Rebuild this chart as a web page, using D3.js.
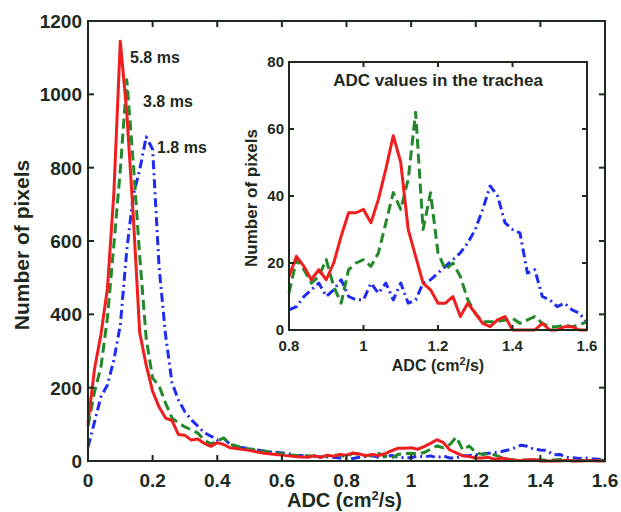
<!DOCTYPE html>
<html><head><meta charset="utf-8">
<script src="https://cdn.jsdelivr.net/npm/d3@7"></script>
<style>
html,body{margin:0;padding:0;background:#fff;}
svg{display:block;font-family:"Liberation Sans",Arial,Helvetica,sans-serif;}
</style></head>
<body><svg id="chart" width="621" height="512"></svg>
<script>
// ---- DATA ----
// ADC bins (cm^2/s), lung part of the histogram (0 - 0.78)
const adcLung = [0.00,0.02,0.04,0.06,0.08,0.10,0.12,0.14,0.16,0.18,0.20,0.22,0.24,0.26,0.28,0.30,0.32,0.34,0.36,0.38,
                 0.40,0.42,0.44,0.46,0.48,0.50,0.52,0.54,0.56,0.58,0.60,0.62,0.64,0.66,0.68,0.70,0.72,0.74,0.76,0.78];
// ADC bins in the trachea range (0.8 - 1.6)
const adcTrachea = [0.80,0.82,0.84,0.86,0.88,0.90,0.92,0.94,0.96,0.98,1.00,1.02,1.04,1.06,1.08,1.10,1.12,1.14,1.16,1.18,
                    1.20,1.22,1.24,1.26,1.28,1.30,1.32,1.34,1.36,1.38,1.40,1.42,1.44,1.46,1.48,1.50,1.52,1.54,1.56,1.58,1.60];

// 5.8 ms (red, solid)
const lung58 = [104,250,345,470,730,1145,950,670,350,262,190,147,117,110,72,70,57,60,48,40,
                50,45,36,34,31,29,25,22,20,18,16,14,12,11,10,14,10,16,13,18];
const trachea58 = [16,22,19,15,18,15,20,28,35,35,36,32,39,48,58,50,30,22,14,12,
                   8,8,10,4,8,5,2,1,3,4,0,0,0,0,2,0,0,1,1,0,0];
// 3.8 ms (green, dashed)
const lung38 = [95,188,256,390,589,794,1040,815,559,335,226,205,158,117,104,93,85,76,57,46,
                55,63,46,41,35,33,30,27,25,22,19,16,16,14,14,13,11,14,16,16];
const trachea38 = [11,21,18,14,16,21,13,8,18,20,21,19,23,32,41,36,45,65,30,41,
                   23,18,20,16,9,5,2.5,2.5,2.5,3,3.5,2,3,4,2,1,1,1.5,1,1.5,2.5];
// 1.8 ms (blue, dash-dot)
const lung18 = [38,106,175,207,275,371,575,725,794,884,850,529,344,213,166,134,112,95,77,68,
                57,62,45,38,36,34,30,28,25,24,22,20,16,15,12,14,10,11,10,8];
const trachea18 = [6,7,10,12,14,10,12,15,10,9,9,14,11,14,9,14,8,9,14,15,
                   17,19,21,23,26,30,36,43,40,32,30,29,17,18,10,9,7,8,6,5,2];

const seriesNames = ["1.8 ms","3.8 ms","5.8 ms"];
const mainYTicks = [0,200,400,600,800,1000,1200];
const mainXTicks = [0,0.2,0.4,0.6,0.8,1,1.2,1.4,1.6];
const insetYTicks = [0,20,40,60,80];
const insetXTicks = [0.8,1,1.2,1.4,1.6];
const insetTitle = "ADC values in the trachea";
const yLabel = "Number of pixels";

// ---- STYLE ----
const ink = "#1d2a1d";
const styles = {
  "1.8 ms": {color:"#1f2cf0", dash:"9,4,2,4"},
  "3.8 ms": {color:"#22882a", dash:"10,5"},
  "5.8 ms": {color:"#f01e1e", dash:null}
};
const allX = adcLung.concat(adcTrachea);
const mainSeries = {
  "1.8 ms": lung18.concat(trachea18),
  "3.8 ms": lung38.concat(trachea38),
  "5.8 ms": lung58.concat(trachea58)
};
const insetSeries = {"1.8 ms": trachea18, "3.8 ms": trachea38, "5.8 ms": trachea58};

const svg = d3.select("#chart");

function drawFrame(g, x, y, xt, yt, fs, tickLen, fmtX, fmtY, xLabOff, yLabOff) {
  const [x0,x1] = x.range(), [y0,y1] = y.range();
  g.append("rect").attr("x",x0).attr("y",y1).attr("width",x1-x0).attr("height",y0-y1)
    .attr("fill","none").attr("stroke",ink).attr("stroke-width",2);
  xt.forEach(t=>{
    g.append("line").attr("x1",x(t)).attr("x2",x(t)).attr("y1",y0).attr("y2",y0-tickLen).attr("stroke",ink).attr("stroke-width",2);
    g.append("line").attr("x1",x(t)).attr("x2",x(t)).attr("y1",y1).attr("y2",y1+tickLen).attr("stroke",ink).attr("stroke-width",2);
    g.append("text").attr("x",x(t)).attr("y",y0+xLabOff).attr("text-anchor","middle")
      .attr("font-size",fs).attr("font-weight","bold").attr("fill",ink).text(fmtX(t));
  });
  yt.forEach(t=>{
    g.append("line").attr("x1",x0).attr("x2",x0+tickLen).attr("y1",y(t)).attr("y2",y(t)).attr("stroke",ink).attr("stroke-width",2);
    g.append("line").attr("x1",x1).attr("x2",x1-tickLen).attr("y1",y(t)).attr("y2",y(t)).attr("stroke",ink).attr("stroke-width",2);
    g.append("text").attr("x",x0-yLabOff).attr("y",y(t)).attr("dy","0.36em").attr("text-anchor","end")
      .attr("font-size",fs).attr("font-weight","bold").attr("fill",ink).text(fmtY(t));
  });
}
const fmt = d => String(+d.toFixed(1));

// ---- MAIN ----
const xM = d3.scaleLinear().domain([0,1.6]).range([88,605]);
const yM = d3.scaleLinear().domain([0,1200]).range([461,21]);
const gM = svg.append("g");
const lineM = d3.line().x((d,i)=>xM(allX[i])).y(d=>yM(d));
seriesNames.forEach(n=>{
  gM.append("path").attr("d",lineM(mainSeries[n])).attr("fill","none")
    .attr("stroke",styles[n].color).attr("stroke-width",3)
    .attr("stroke-dasharray",styles[n].dash).attr("stroke-linejoin","round");
});
drawFrame(gM,xM,yM,mainXTicks,mainYTicks,19,6,fmt,d=>String(d),26,6);
gM.append("text").attr("x",xM(0.8)-2).attr("y",507).attr("text-anchor","middle")
  .attr("font-size",20).attr("font-weight","bold").attr("fill",ink)
  .html('ADC (cm<tspan dy="-7" font-size="13">2</tspan><tspan dy="7">/s)</tspan>');
gM.append("text").attr("transform","translate(29,245) rotate(-90)").attr("text-anchor","middle")
  .attr("font-size",21).attr("font-weight","bold").attr("fill",ink).text(yLabel);
// curve labels
const peakLabels = [{n:"5.8 ms",x:130,y:57},{n:"3.8 ms",x:143,y:101},{n:"1.8 ms",x:157,y:147}];
peakLabels.forEach(p=>{
  gM.append("text").attr("x",p.x).attr("y",p.y).attr("dy","0.36em").attr("font-size",16)
    .attr("font-weight","bold").attr("fill",ink).text(p.n);
});

// ---- INSET ----
const xI = d3.scaleLinear().domain([0.8,1.6]).range([289,587]);
const yI = d3.scaleLinear().domain([0,80]).range([330,62]);
const gI = svg.append("g");
gI.append("rect").attr("x",240).attr("y",52).attr("width",356).attr("height",325).attr("fill","#fff");
gI.append("rect").attr("x",289).attr("y",62).attr("width",298).attr("height",268).attr("fill","#fff");
const lineI = d3.line().x((d,i)=>xI(adcTrachea[i])).y(d=>yI(d));
seriesNames.forEach(n=>{
  gI.append("path").attr("d",lineI(insetSeries[n])).attr("fill","none")
    .attr("stroke",styles[n].color).attr("stroke-width",3)
    .attr("stroke-dasharray",styles[n].dash).attr("stroke-linejoin","round");
});
drawFrame(gI,xI,yI,insetXTicks,insetYTicks,15,5,fmt,d=>String(d),21,5);
gI.append("text").attr("x",438).attr("y",86).attr("text-anchor","middle")
  .attr("font-size",17).attr("font-weight","bold").attr("fill",ink).text(insetTitle);
gI.append("text").attr("x",438).attr("y",371).attr("text-anchor","middle")
  .attr("font-size",16).attr("font-weight","bold").attr("fill",ink)
  .html('ADC (cm<tspan dy="-6" font-size="11">2</tspan><tspan dy="6">/s)</tspan>');
gI.append("text").attr("transform","translate(257,198) rotate(-90)").attr("text-anchor","middle")
  .attr("font-size",17).attr("font-weight","bold").attr("fill",ink).text(yLabel);
</script></body></html>
